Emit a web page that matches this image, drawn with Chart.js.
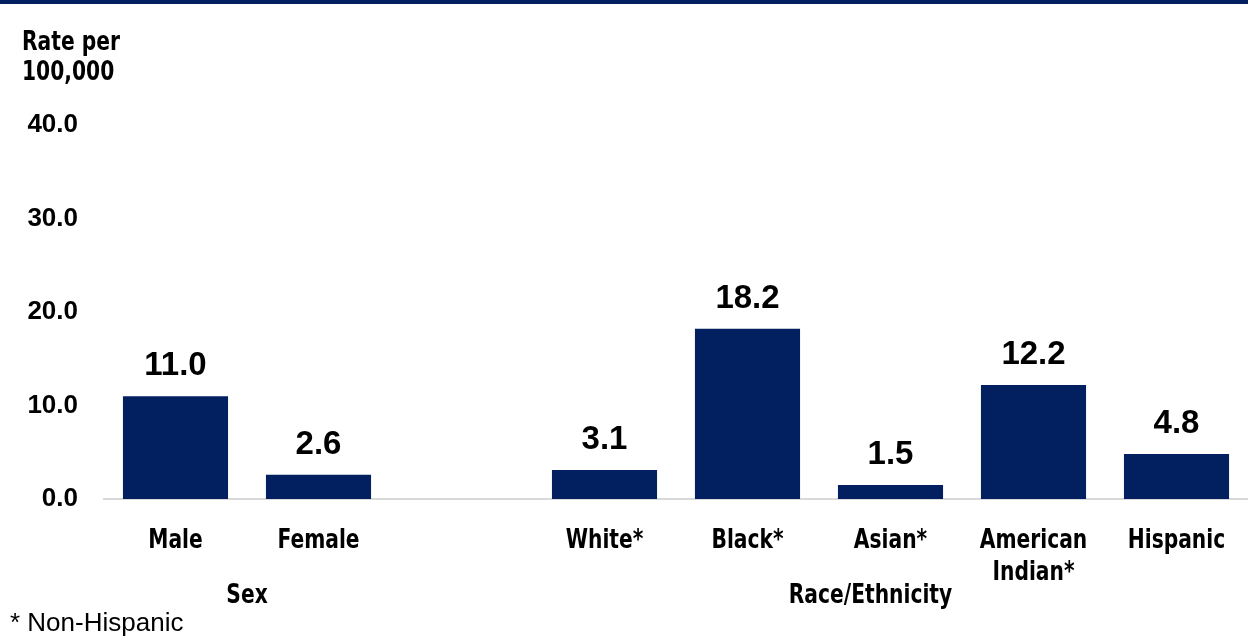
<!DOCTYPE html>
<html>
<head>
<meta charset="utf-8">
<script src="https://cdn.jsdelivr.net/npm/chart.js@4"></script>
<style>
  html, body { margin: 0; padding: 0; background: #fff; }
  #wrap { width: 1248px; height: 638px; position: relative; }
</style>
</head>
<body>
<div id="wrap"><canvas id="rateChart"></canvas></div>
<script>
// Rates per 100,000 (blank slot separates the two groups)
const categories = ['Male', 'Female', '', 'White*', 'Black*', 'Asian*', ['American', 'Indian*'], 'Hispanic'];
const rates = [11.0, 2.6, null, 3.1, 18.2, 1.5, 12.2, 4.8];
const yTicks = [0, 10, 20, 30, 40];
const groups = [
    { label: 'Sex', from: 0, to: 1 },
    { label: 'Race/Ethnicity', from: 3, to: 7, shift: -20 }
];
const footnote = '* Non-Hispanic';

const navy = '#022060';
const labelFont = 'bold 27px "DejaVu Sans", sans-serif';
const squeeze = 0.75; // fake a condensed face
const numFont = '"Liberation Sans", Arial, sans-serif';

// draw condensed text centred/left at x, baseline y
function narrowText(c, text, x, y, align) {
    c.save();
    c.font = labelFont;
    c.textBaseline = 'alphabetic';
    c.textAlign = align;
    c.translate(x, y);
    c.scale(squeeze, 1);
    c.fillText(text, 0, 0);
    c.restore();
}

const extras = {
    id: 'extras',
    beforeDraw(chart) {
        const c = chart.ctx;
        c.save();
        c.fillStyle = navy;
        c.fillRect(0, 0, chart.width, 4);
        c.restore();
    },
    afterDatasetsDraw(chart) {
        const c = chart.ctx;
        const meta = chart.getDatasetMeta(0);
        const x = chart.scales.x;
        const base = chart.chartArea.bottom;
        c.save();
        c.fillStyle = '#000';
        // value labels
        c.font = 'bold 33px ' + numFont;
        c.textAlign = 'center';
        c.textBaseline = 'alphabetic';
        meta.data.forEach((bar, i) => {
            if (rates[i] == null) return;
            c.fillText(rates[i].toFixed(1), bar.x, bar.y - 21);
        });
        // category labels
        categories.forEach((lab, i) => {
            const lines = Array.isArray(lab) ? lab : [lab];
            lines.forEach((t, k) => narrowText(c, t, x.getPixelForValue(i), base + 49 + k * 32, 'center'));
        });
        // axis title
        narrowText(c, 'Rate per', 22, 50, 'left');
        narrowText(c, '100,000', 22, 80, 'left');
        // group labels
        groups.forEach(g => {
            const mid = (x.getPixelForValue(g.from) + x.getPixelForValue(g.to)) / 2 + (g.shift || 0);
            narrowText(c, g.label, mid, 603, 'center');
        });
        // footnote
        c.font = '26px ' + numFont;
        c.textAlign = 'left';
        c.fillText(footnote, 10, 631);
        c.restore();
    }
};

const ctx = document.getElementById('rateChart').getContext('2d');
const rateChart = new Chart(ctx, {
    type: 'bar',
    data: {
        labels: categories,
        datasets: [{
            data: rates,
            backgroundColor: navy,
            barPercentage: 0.735,
            categoryPercentage: 1
        }]
    },
    options: {
        responsive: true,
        maintainAspectRatio: false,
        animation: false,
        layout: { padding: { top: 125, right: 0, bottom: 0, left: 0 } },
        plugins: { legend: { display: false }, tooltip: { enabled: false } },
        scales: {
            x: {
                grid: { display: false, drawTicks: false },
                border: { color: '#d9d9d9', width: 2 },
                ticks: { display: false },
                afterFit(scale) { scale.height = 139; }
            },
            y: {
                min: 0,
                max: 40,
                grid: { display: false, drawTicks: false },
                border: { display: false },
                afterBuildTicks(scale) { scale.ticks = yTicks.map(v => ({ value: v })); },
                ticks: {
                    color: '#000',
                    padding: 26,
                    font: { family: numFont, size: 26, weight: 'bold' },
                    callback: v => v.toFixed(1)
                },
                afterFit(scale) { scale.width = 104; }
            }
        }
    },
    plugins: [extras]
});
</script>
</body>
</html>
